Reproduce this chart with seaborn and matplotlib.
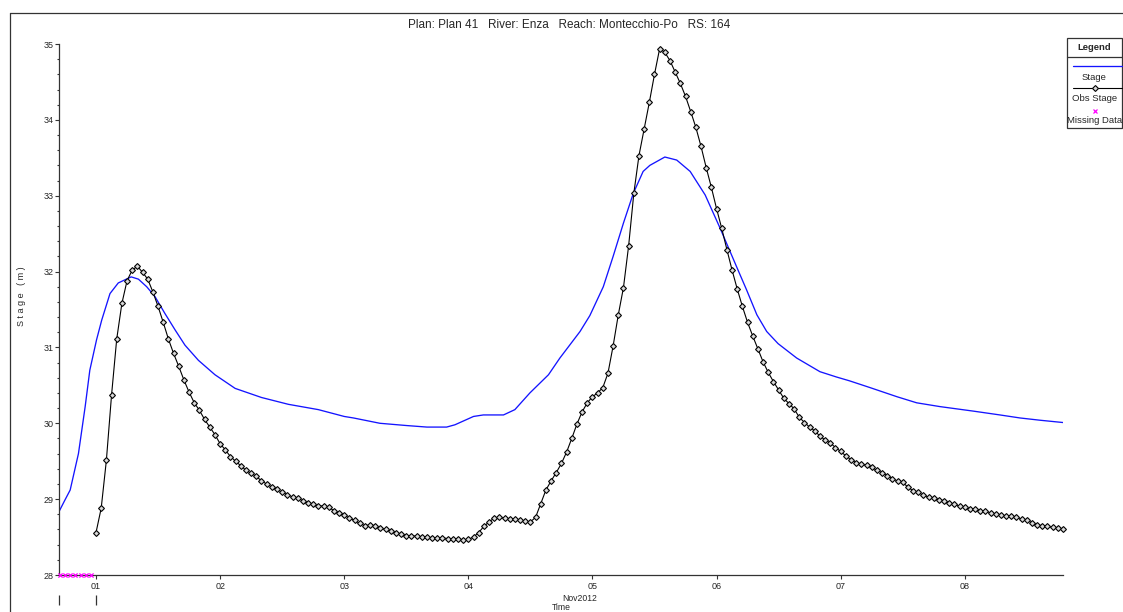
import numpy as np
import pandas as pd
import matplotlib
matplotlib.use("Agg")
import matplotlib.pyplot as plt
import matplotlib.dates as mdates
from matplotlib.lines import Line2D
from matplotlib.patches import Rectangle
import seaborn as sns

# ---- data -------------------------------------------------------------
title_text = "Plan: Plan 41   River: Enza   Reach: Montecchio-Po   RS: 164"
origin = pd.Timestamp("2012-11-01 00:00")

# computed stage (hours from origin, metres)
stage_hours = [-7.2, -6.0, -5.0, -3.4, -2.1, -1.2, 0.1, 1.1, 2.7, 4.3, 6.8,
               8.2, 9.8, 11.4, 13.3, 15.3, 17.2, 19.8, 23.0, 26.9, 32.0,
               37.2, 43.0, 48.0, 49.8, 54.9, 60.1, 64.0, 67.8, 69.4, 73.0,
               74.9, 78.8, 81.0, 83.9, 87.5, 89.7, 93.6, 95.5, 98.1, 100.0,
               102.0, 103.9, 105.8, 107.1, 110.0, 112.3, 114.9, 117.8, 120.7,
               123.9, 125.8, 127.8, 129.7, 131.9, 135.5, 140.0, 143.2, 145.7,
               149.7, 154.9, 158.7, 163.2, 169.7, 174.8, 178.7, 182.6, 187.0]
stage_values = [28.83, 28.99, 29.12, 29.60, 30.22, 30.70, 31.10, 31.36, 31.71,
                31.85, 31.93, 31.90, 31.80, 31.67, 31.45, 31.23, 31.03, 30.83,
                30.64, 30.46, 30.34, 30.25, 30.18, 30.09, 30.07, 30.00, 29.97,
                29.95, 29.95, 29.98, 30.09, 30.11, 30.11, 30.18, 30.40, 30.64,
                30.86, 31.21, 31.42, 31.80, 32.20, 32.64, 33.03, 33.32, 33.40,
                33.51, 33.47, 33.32, 33.01, 32.57, 32.06, 31.76, 31.43, 31.21,
                31.05, 30.86, 30.68, 30.61, 30.56, 30.47, 30.35, 30.27, 30.22,
                30.16, 30.11, 30.07, 30.04, 30.01]

# observed stage, hourly from origin
obs_values = [
    28.56, 28.88, 29.51, 30.37, 31.11, 31.58, 31.88, 32.02, 32.07, 31.99,
    31.90, 31.73, 31.54, 31.33, 31.11, 30.92, 30.75, 30.57, 30.41, 30.27,
    30.17, 30.05, 29.95, 29.85, 29.73, 29.65, 29.56, 29.50, 29.44, 29.38,
    29.34, 29.30, 29.24, 29.20, 29.16, 29.13, 29.09, 29.06, 29.03, 29.01,
    28.98, 28.95, 28.93, 28.91, 28.91, 28.89, 28.85, 28.82, 28.79,
    28.75, 28.72, 28.68, 28.65, 28.66, 28.65, 28.62, 28.60, 28.58, 28.56,
    28.54, 28.52, 28.52, 28.51, 28.50, 28.50, 28.49, 28.49, 28.49, 28.48,
    28.47, 28.47, 28.46, 28.47, 28.50, 28.56, 28.64, 28.70, 28.75, 28.76,
    28.75, 28.74, 28.74, 28.72, 28.71, 28.70, 28.76, 28.94, 29.12, 29.24,
    29.35, 29.47, 29.62, 29.80, 29.99, 30.15, 30.27, 30.35, 30.40,
    30.47, 30.66, 31.02, 31.43, 31.79, 32.34, 33.03, 33.53, 33.88, 34.23,
    34.60, 34.94, 34.89, 34.78, 34.63, 34.48, 34.31, 34.11, 33.90, 33.65,
    33.37, 33.11, 32.83, 32.57, 32.29, 32.02, 31.77, 31.54, 31.33, 31.15,
    30.98, 30.81, 30.67, 30.55, 30.44, 30.33, 30.26, 30.19, 30.08, 30.01,
    29.95, 29.90, 29.83, 29.78, 29.74, 29.68, 29.63, 29.57, 29.52,
    29.48, 29.46, 29.45, 29.42, 29.38, 29.35, 29.31, 29.27, 29.24, 29.22,
    29.16, 29.11, 29.09, 29.05, 29.03, 29.01, 28.99, 28.98, 28.95,
    28.93, 28.91, 28.89, 28.87, 28.87, 28.85, 28.84, 28.82, 28.80, 28.79,
    28.78, 28.78, 28.76, 28.74, 28.72, 28.69, 28.66, 28.65, 28.64, 28.63,
    28.62, 28.60]

# hours with no observation (drawn on the axis floor)
missing_hours = [-7, -6, -5, -4, -3, -2, -1]
missing_level = 28.0

x_start_h, x_end_h = -7.16, 187.0
y_min, y_max = 28.0, 35.0

# ---- frames -----------------------------------------------------------
def to_time(hours):
    return origin + pd.to_timedelta(np.asarray(hours, dtype=float), unit="h")

stage_df = pd.DataFrame({"time": to_time(stage_hours), "stage": stage_values})
obs_df = pd.DataFrame({"time": to_time(np.arange(len(obs_values))),
                       "stage": obs_values})
miss_df = pd.DataFrame({"time": to_time(missing_hours),
                        "stage": [missing_level] * len(missing_hours)})

# ---- style ------------------------------------------------------------
sns.set_theme(style="white")
plt.rcParams["font.family"] = ["Liberation Sans Narrow", "Liberation Sans",
                               "DejaVu Sans"]
plt.rcParams["axes.linewidth"] = 0.9

STAGE_BLUE = "#1414ff"
MISS_PINK = "#ff00ff"
obs_marker = dict(marker="D", markersize=3.0, markerfacecolor="#d8d8d8",
                  markeredgecolor="black", markeredgewidth=0.8)

W, H = 1123, 612
fig = plt.figure(figsize=(W / 100, H / 100), dpi=100)
fig.patch.set_facecolor("white")
ax = fig.add_axes([59 / W, 1 - 575 / H, (1063 - 59) / W, (575 - 44) / H])
ax.set_facecolor("white")

sns.lineplot(data=stage_df, x="time", y="stage", ax=ax, color=STAGE_BLUE,
             lw=0.95, estimator=None, sort=False)
sns.lineplot(data=obs_df, x="time", y="stage", ax=ax, color="black", lw=0.8,
             estimator=None, sort=False, clip_on=False, **obs_marker)
sns.scatterplot(data=miss_df, x="time", y="stage", ax=ax, marker="x", s=9,
                color=MISS_PINK, linewidth=0.9, clip_on=False, zorder=5)

ax.set_xlim(to_time([x_start_h])[0], to_time([x_end_h])[0])
ax.set_ylim(y_min, y_max)
ax.set_xlabel("")
ax.set_ylabel("")

for side in ("top", "right"):
    ax.spines[side].set_visible(False)
for side in ("left", "bottom"):
    ax.spines[side].set_color("#333333")

ax.xaxis.set_major_locator(mdates.DayLocator())
ax.xaxis.set_major_formatter(mdates.DateFormatter("%d"))
ax.set_yticks(np.arange(28, 35.5, 1))
ax.set_yticks(np.arange(28, 35.01, 0.2), minor=True)
ax.yaxis.set_major_formatter(matplotlib.ticker.FormatStrFormatter("%d"))
ax.tick_params(axis="y", which="major", direction="out", length=2.6,
               width=0.8, labelsize=6.5, pad=1, left=True, color="#333333")
ax.tick_params(axis="y", which="minor", direction="out", length=1.6,
               width=0.8, left=True, color="#333333")
ax.tick_params(axis="x", which="major", direction="out", length=2.8,
               width=0.8, labelsize=6.5, pad=2, bottom=True, color="#333333")
ax.grid(False)

# month-level marks below the day labels
ax.vlines([to_time([x_start_h])[0], origin], -0.0377, -0.0565,
          transform=ax.get_xaxis_transform(), colors="#333333", lw=0.9,
          clip_on=False)
nov_center = (mdates.date2num(origin) + mdates.date2num(to_time([x_end_h])[0])) / 2
ax.text(nov_center, -0.045, "Nov2012", transform=ax.get_xaxis_transform(),
        ha="center", va="center", fontsize=6.2)
fig.text(561 / W, 1 - 608 / H, "Time", ha="center", va="center", fontsize=6.2)
fig.text(21 / W, 1 - 296 / H, "S t a g e   ( m )", rotation=90, ha="center",
         va="center", fontsize=6.5)
fig.text(569 / W, 1 - 25 / H, title_text, ha="center", va="center",
         fontsize=8.5, family=["Liberation Sans", "DejaVu Sans"])

# outer frame
fx, fy = 10 / W, 1 - 13 / H
fig.add_artist(Line2D([fx, 1.0], [fy, fy], color="#333333", lw=0.9,
                      transform=fig.transFigure))
fig.add_artist(Line2D([fx, fx], [fy, 0.0], color="#333333", lw=0.9,
                      transform=fig.transFigure))

# legend panel
lx0, lx1 = 1067 / W, 1122 / W
ly0, ly1 = 1 - 128 / H, 1 - 38 / H
fig.add_artist(Rectangle((lx0, ly0), lx1 - lx0, ly1 - ly0, fill=False,
                         edgecolor="#333333", lw=0.9,
                         transform=fig.transFigure))
fig.add_artist(Line2D([lx0, lx1], [1 - 57 / H] * 2, color="#333333", lw=0.9,
                      transform=fig.transFigure))
lcx = (lx0 + lx1) / 2
fig.text(lcx, 1 - 48 / H, "Legend", ha="center", va="center", fontsize=6.8,
         fontweight="bold")
seg = [1072.7 / W, 1121.5 / W]
fig.add_artist(Line2D(seg, [1 - 65.7 / H] * 2, color=STAGE_BLUE, lw=0.95,
                      transform=fig.transFigure))
fig.text(lcx, 1 - 78 / H, "Stage", ha="center", va="center", fontsize=6.8)
fig.add_artist(Line2D(seg, [1 - 87.7 / H] * 2, color="black", lw=0.8,
                      transform=fig.transFigure))
fig.add_artist(Line2D([lcx], [1 - 87.7 / H], color="black", lw=0,
                      transform=fig.transFigure, **obs_marker))
fig.text(lcx, 1 - 98.5 / H, "Obs Stage", ha="center", va="center",
         fontsize=6.8)
fig.add_artist(Line2D([lcx], [1 - 111 / H], color=MISS_PINK, lw=0,
                      marker="x", markersize=3, markeredgewidth=0.9,
                      transform=fig.transFigure))
fig.text(lcx, 1 - 120.5 / H, "Missing Data", ha="center", va="center",
         fontsize=6.8)

fig.savefig("out.png", dpi=100, facecolor="white")
